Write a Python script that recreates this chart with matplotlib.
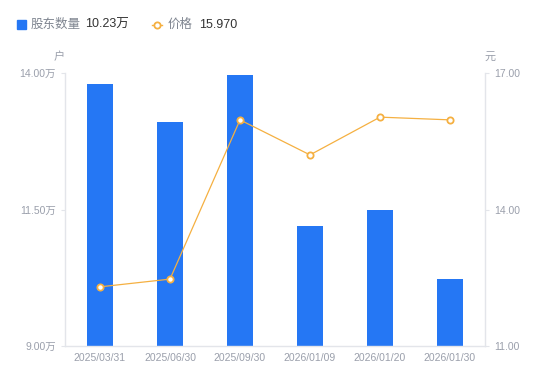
import matplotlib
matplotlib.use("Agg")
import matplotlib.pyplot as plt
from matplotlib.lines import Line2D
from matplotlib.patches import Rectangle

plt.rcParams['font.family'] = ['Liberation Sans', 'Noto Sans CJK SC', 'DejaVu Sans']

dates = ["2025/03/31", "2025/06/30", "2025/09/30", "2026/01/09", "2026/01/20", "2026/01/30"]
holders = [13.80, 13.10, 13.96, 11.20, 11.49, 10.23]   # 万户
price = [12.30, 12.47, 15.97, 15.20, 16.03, 15.97]
left_ticks = [9.0, 11.5, 14.0]
right_ticks = [11.0, 14.0, 17.0]

BLUE = "#2577F4"
ORANGE = "#F5B041"
GRAY = "#9A9FAB"
AX = "#E3E5EA"

fig = plt.figure(figsize=(5.5, 3.81), dpi=100)
ax = fig.add_axes([65/550, 1-346/381, 420/550, 273/381])
x = list(range(len(dates)))
ax.bar(x, holders, width=0.36, color=BLUE, zorder=2)
ax.set_xlim(-0.5, len(dates)-0.5)
ax.set_ylim(left_ticks[0], left_ticks[-1])
ax.set_yticks(left_ticks)
ax.set_yticklabels([f"{v:.2f}万" for v in left_ticks])
ax.set_xticks(x)
ax.set_xticklabels(dates)

ax2 = ax.twinx()
ax2.plot(x, price, color=ORANGE, lw=0.9, marker='o', ms=4.5, mfc='white', mec=ORANGE, mew=1.3, zorder=3)
ax2.set_ylim(right_ticks[0], right_ticks[-1])
ax2.set_yticks(right_ticks)
ax2.set_yticklabels([f"{v:.2f}" for v in right_ticks])

for a in (ax, ax2):
    for s in a.spines.values():
        s.set_color(AX)
        s.set_linewidth(1)
    a.spines['top'].set_visible(False)
    a.tick_params(colors=AX, labelcolor=GRAY, labelsize=7.5, length=3, width=0.8)
ax.tick_params(axis='x', length=0, pad=5, labelsize=7.5)
ax2.spines['left'].set_visible(False)
ax.spines['right'].set_visible(False)
ax2.spines['bottom'].set_visible(False)

fig.text(59/550, 1-57/381, "户", color=GRAY, fontsize=8, ha='center', va='center')
fig.text(490/550, 1-57/381, "元", color=GRAY, fontsize=8, ha='center', va='center')

# legend
fig.patches.append(Rectangle((17/550, 1-29/381), 9/550, 9/381, transform=fig.transFigure,
                             color=BLUE, figure=fig))
fig.text(31/550, 1-24.5/381, "股东数量", color="#7F8590", fontsize=9, va='center')
fig.text(85/550, 1-24.5/381, "10.23万", color="#333333", fontsize=9, va='center')
fig.lines.append(Line2D([152/550, 162/550], [1-24.5/381]*2, transform=fig.transFigure,
                        color=ORANGE, lw=1))
fig.lines.append(Line2D([157/550], [1-24.5/381], transform=fig.transFigure,
                        color=ORANGE, marker='o', ms=4.5, mfc='white', mec=ORANGE, mew=1.3, lw=0))
fig.text(168/550, 1-24.5/381, "价格", color="#7F8590", fontsize=9, va='center')
fig.text(199/550, 1-24.5/381, "15.970", color="#333333", fontsize=9, va='center')

fig.savefig("out.png", dpi=100)
